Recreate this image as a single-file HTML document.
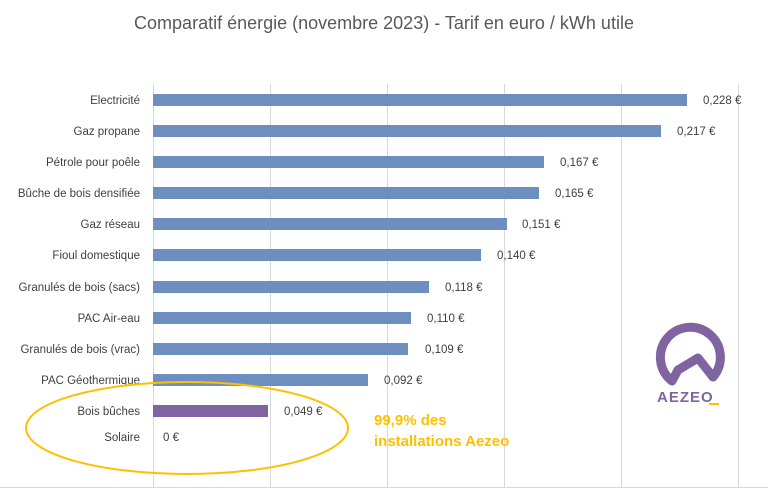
<!DOCTYPE html>
<html><head><meta charset="utf-8"><style>
html,body{margin:0;padding:0;background:#fff;}
svg{display:block;font-family:"Liberation Sans",sans-serif;}
</style></head><body>
<svg width="768" height="490" viewBox="0 0 768 490" xmlns="http://www.w3.org/2000/svg">
<rect width="768" height="490" fill="#fff"/>
<text x="384" y="29" text-anchor="middle" font-size="18" fill="#595959">Comparatif énergie (novembre 2023) - Tarif en euro / kWh utile</text>
<g stroke="#d9d9d9" stroke-width="1">
<line x1="153.5" y1="84" x2="153.5" y2="487"/>
<line x1="270.5" y1="84" x2="270.5" y2="487"/>
<line x1="387.5" y1="84" x2="387.5" y2="487"/>
<line x1="504.5" y1="84" x2="504.5" y2="487"/>
<line x1="621.5" y1="84" x2="621.5" y2="487"/>
<line x1="738.5" y1="84" x2="738.5" y2="487"/>
<line x1="0" y1="487.5" x2="768" y2="487.5"/>
</g>
<g font-size="11.5" fill="#404040">
<g text-anchor="end">
<text x="140" y="104">Electricité</text>
<text x="140" y="135">Gaz propane</text>
<text x="140" y="166">Pétrole pour poêle</text>
<text x="140" y="197">Bûche de bois densifiée</text>
<text x="140" y="228">Gaz réseau</text>
<text x="140" y="259">Fioul domestique</text>
<text x="140" y="291">Granulés de bois (sacs)</text>
<text x="140" y="322">PAC Air-eau</text>
<text x="140" y="353">Granulés de bois (vrac)</text>
<text x="140" y="384">PAC Géothermique</text>
<text x="140" y="415">Bois bûches</text>
<text x="140" y="441">Solaire</text>
</g>
<text x="703" y="104">0,228 €</text>
<text x="677" y="135">0,217 €</text>
<text x="560" y="166">0,167 €</text>
<text x="555" y="197">0,165 €</text>
<text x="522" y="228">0,151 €</text>
<text x="497" y="259">0,140 €</text>
<text x="445" y="291">0,118 €</text>
<text x="427" y="322">0,110 €</text>
<text x="425" y="353">0,109 €</text>
<text x="384" y="384">0,092 €</text>
<text x="284" y="415">0,049 €</text>
<text x="163" y="441">0 €</text>
</g>
<g fill="#6d8fbf">
<rect x="153" y="94" width="534" height="12"/>
<rect x="153" y="125" width="508" height="12"/>
<rect x="153" y="156" width="391" height="12"/>
<rect x="153" y="187" width="386" height="12"/>
<rect x="153" y="218" width="354" height="12"/>
<rect x="153" y="249" width="328" height="12"/>
<rect x="153" y="281" width="276" height="12"/>
<rect x="153" y="312" width="258" height="12"/>
<rect x="153" y="343" width="255" height="12"/>
<rect x="153" y="374" width="215" height="12"/>
</g>
<rect x="153" y="405" width="115" height="12" fill="#8064a2"/>
<ellipse cx="187" cy="428" rx="161" ry="46" fill="none" stroke="#ffc000" stroke-width="2"/>
<text x="374" y="425" font-size="15" font-weight="bold" fill="#ffc000">99,9% des</text>
<text x="374" y="446" font-size="15" font-weight="bold" fill="#ffc000">installations Aezeo</text>
<path d="M672 381 A30 30 0 1 1 713 377 L698 358 L678 370 Z" fill="none" stroke="#8064a2" stroke-width="9" stroke-linejoin="round"/>
<text x="657" y="402" font-size="15" font-weight="bold" fill="#8064a2" letter-spacing="1">AEZEO</text>
<rect x="709" y="403" width="10" height="2" fill="#ffc000"/>
</svg>
</body></html>
